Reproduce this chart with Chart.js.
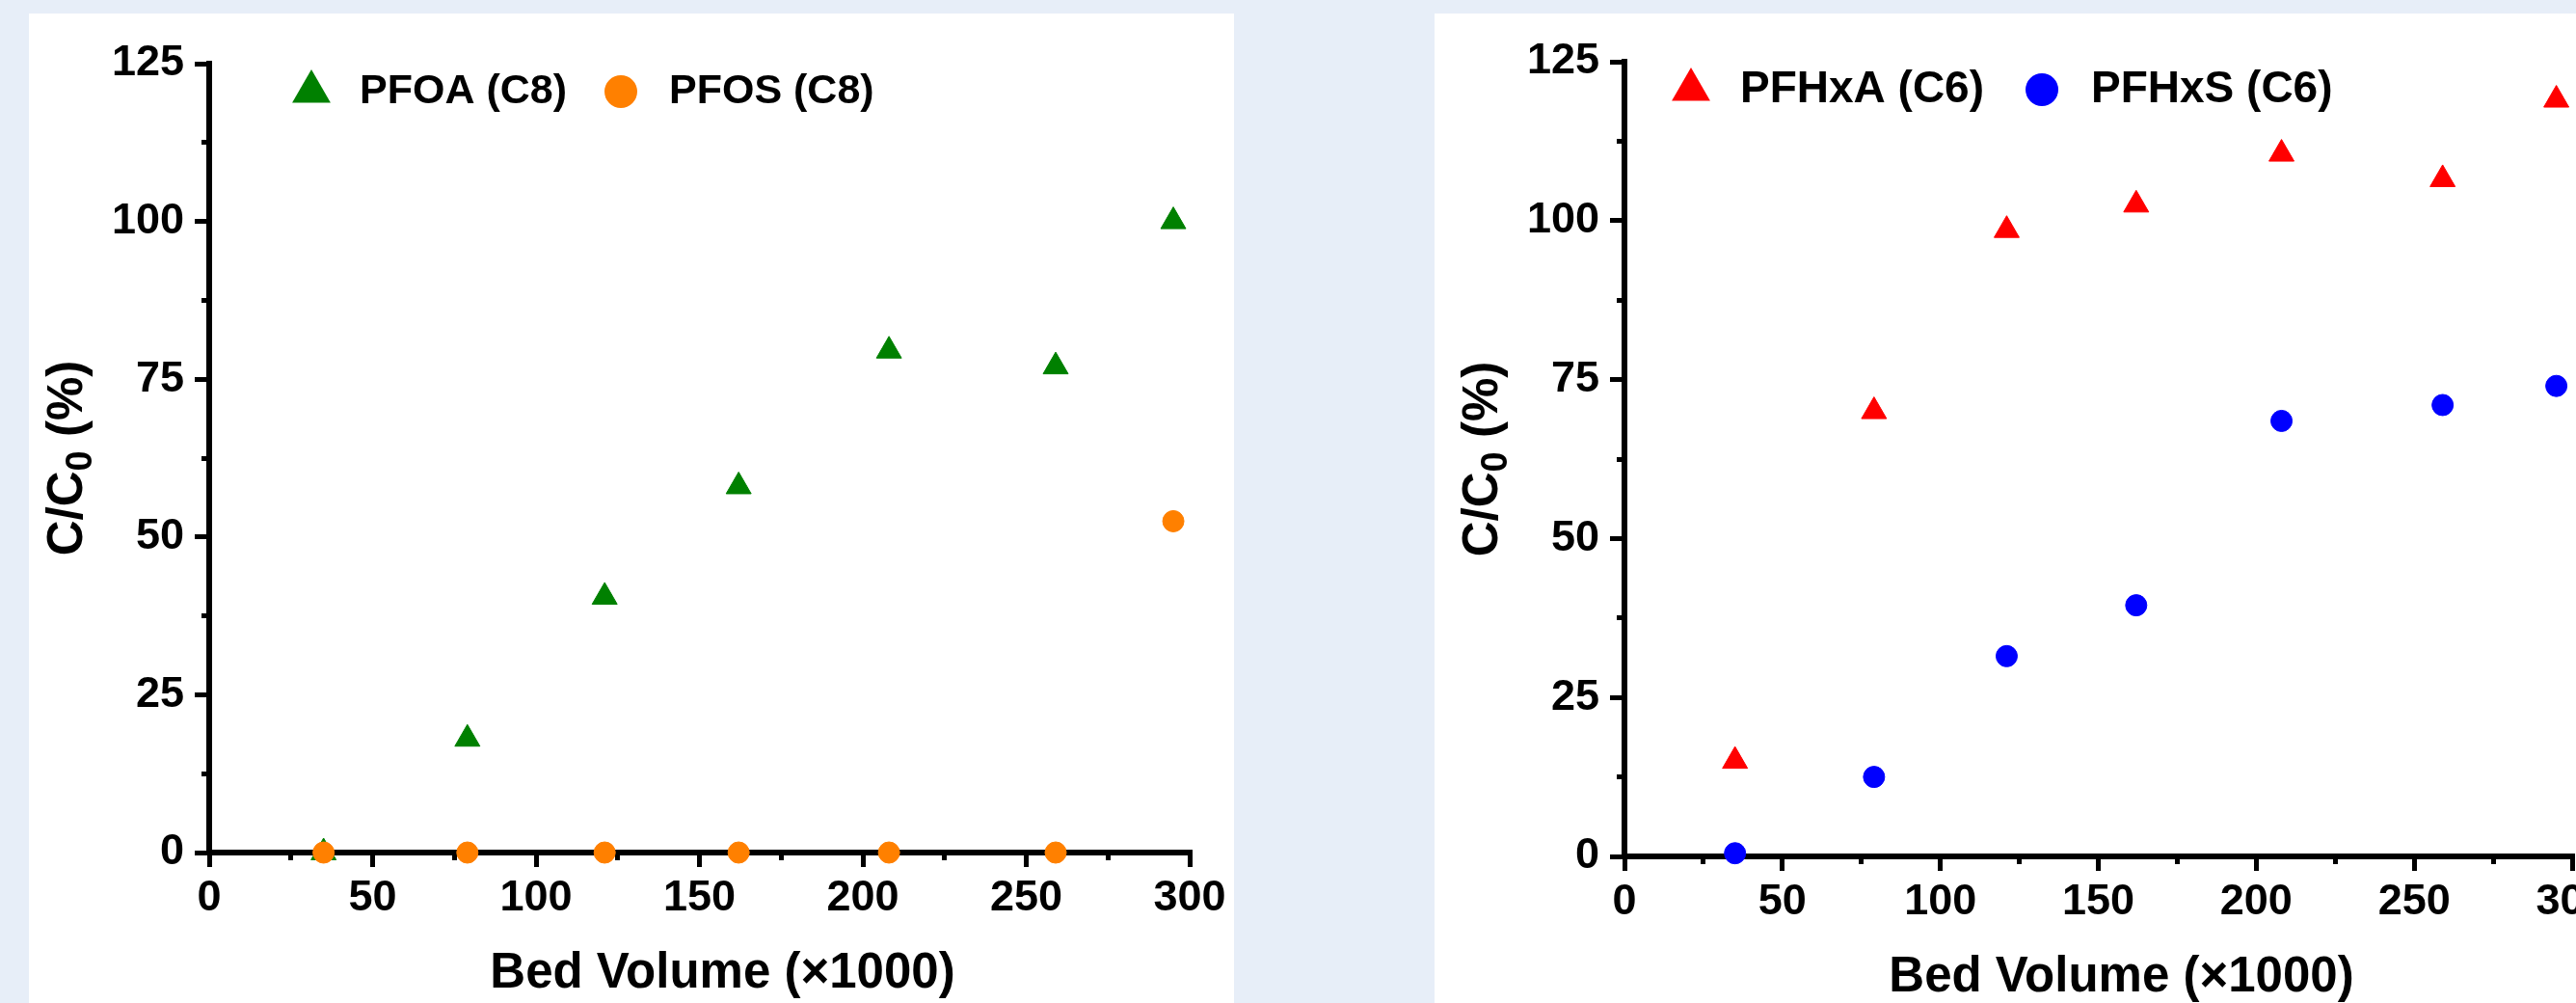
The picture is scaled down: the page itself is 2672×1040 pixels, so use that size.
<!DOCTYPE html>
<html>
<head>
<meta charset="utf-8">
<script src="https://cdn.jsdelivr.net/npm/chart.js@4.4.1/dist/chart.umd.min.js"></script>
<style>
  html, body {
    margin: 0;
    padding: 0;
    overflow: hidden;
  }
  body {
    width: 2672px;
    height: 1040px;
    position: relative;
    background: #e7eef8;
  }
  .panel {
    position: absolute;
    top: 14px;
    width: 1250px;
    height: 1026px;
    background: #fff;
  }
  .panel canvas {
    display: block;
  }
</style>
</head>
<body>
<div class="panel" style="left:30px"><canvas id="chartC8" width="1250" height="1026"></canvas></div>
<div class="panel" style="left:1488px"><canvas id="chartC6" width="1250" height="1026"></canvas></div>

<script>
const FONT = "'Liberation Sans', Arial, Helvetica, sans-serif";

// data
const bedVolume = [35, 79, 121, 162, 208, 259, 295];
const pfoa = [0, 18, 40.5, 58, 79.5, 77, 100];
const pfos = [0, 0, 0, 0, 0, 0, 52.5];
const pfhxa = [15, 70, 98.5, 102.5, 110.5, 106.5, 119];
const pfhxs = [0.5, 12.5, 31.5, 39.5, 68.5, 71, 74];

const labelsC8 = ["PFOA (C8)", "PFOS (C8)"];
const labelsC6 = ["PFHxA (C6)", "PFHxS (C6)"];

const xTitle = "Bed Volume (\u00d71000)";
const yTitleParts = ["C/C", "0", " (%)"];

const xRange = [0, 300];
const xMajorStep = 50;
const xMinorStep = 25;
const yRange = [0, 125];
const yMajorStep = 25;
const yMinorStep = 12.5;

const toPoints = (ys) => bedVolume.map((x, i) => ({ x, y: ys[i] }));

// axis titles (y title needs a subscript, so both are drawn here)
const axisTitles = {
  id: "axisTitles",
  afterDraw(chart, args, opts) {
    const { ctx, chartArea } = chart;
    ctx.save();
    ctx.fillStyle = "#000";
    ctx.textBaseline = "alphabetic";

    ctx.font = `bold ${opts.size}px ${FONT}`;
    ctx.textAlign = "center";
    ctx.fillText(
      xTitle,
      (chartArea.left + chartArea.right) / 2 + opts.xShift,
      chartArea.bottom + opts.xGap
    );

    ctx.translate(chartArea.left - opts.yGap, (chartArea.top + chartArea.bottom) / 2);
    ctx.rotate(-Math.PI / 2);
    ctx.textAlign = "left";
    const mainFont = `bold ${opts.size}px ${FONT}`;
    const subFont = `bold ${opts.subSize}px ${FONT}`;
    ctx.font = mainFont;
    const w0 = ctx.measureText(yTitleParts[0]).width;
    const w2 = ctx.measureText(yTitleParts[2]).width;
    ctx.font = subFont;
    const w1 = ctx.measureText(yTitleParts[1]).width;
    let x = -(w0 + w1 + w2) / 2;
    ctx.font = mainFont;
    ctx.fillText(yTitleParts[0], x, 0);
    x += w0;
    ctx.font = subFont;
    ctx.fillText(yTitleParts[1], x, opts.subDrop);
    x += w1;
    ctx.font = mainFont;
    ctx.fillText(yTitleParts[2], x, 0);
    ctx.restore();
  },
};

// legend sitting inside the plot area
const insideLegend = {
  id: "insideLegend",
  afterDraw(chart, args, opts) {
    const { ctx, chartArea } = chart;
    ctx.save();
    ctx.font = `bold ${opts.fontSize}px ${FONT}`;
    ctx.textBaseline = "middle";
    ctx.textAlign = "left";
    let x = chartArea.left + opts.x;
    const y = chartArea.top + opts.y;
    chart.data.datasets.forEach((ds) => {
      ctx.fillStyle = ds.pointBackgroundColor;
      ctx.strokeStyle = ds.pointBackgroundColor;
      Chart.helpers.drawPoint(
        ctx,
        { pointStyle: ds.pointStyle, radius: opts.radius[ds.pointStyle], rotation: 0, borderWidth: 0 },
        x,
        y
      );
      ctx.fillStyle = "#000";
      const tx = x + opts.textGap;
      ctx.fillText(ds.label, tx, y);
      x = tx + ctx.measureText(ds.label).width + opts.itemGap;
    });
    ctx.restore();
  },
};

function makeScales(leftWidth) {
  const tickFont = { family: FONT, size: 45, weight: "bold" };
  const minorGrid = {
    display: true,
    drawOnChartArea: false,
    drawTicks: true,
    tickLength: 8,
    tickWidth: 5,
    lineWidth: 5,
    tickColor: "#000",
    color: "#000",
  };
  const majorGrid = { ...minorGrid, tickLength: 15 };
  return {
    x: {
      type: "linear",
      position: "bottom",
      weight: 1,
      min: xRange[0],
      max: xRange[1],
      border: { display: true, color: "#000", width: 6 },
      grid: majorGrid,
      ticks: { stepSize: xMajorStep, color: "#000", font: tickFont, padding: 6, maxRotation: 0, autoSkip: false },
      afterFit: (s) => { s.height = 100; },
    },
    xMinor: {
      type: "linear",
      position: "bottom",
      weight: 0,
      min: xRange[0],
      max: xRange[1],
      border: { display: false },
      grid: minorGrid,
      ticks: { stepSize: xMinorStep, display: false, autoSkip: false },
      afterFit: (s) => { s.height = 0; },
    },
    y: {
      type: "linear",
      position: "left",
      weight: 1,
      min: yRange[0],
      max: yRange[1],
      border: { display: true, color: "#000", width: 6 },
      grid: majorGrid,
      ticks: { stepSize: yMajorStep, color: "#000", font: tickFont, padding: 11, autoSkip: false },
      afterFit: (s) => { s.width = leftWidth; },
    },
    yMinor: {
      type: "linear",
      position: "left",
      weight: 0,
      min: yRange[0],
      max: yRange[1],
      border: { display: false },
      grid: minorGrid,
      ticks: { stepSize: yMinorStep, display: false, autoSkip: false },
      afterFit: (s) => { s.width = 0; },
    },
  };
}

function makeDataset(label, ys, color, style, radius, order) {
  return {
    label,
    data: toPoints(ys),
    pointStyle: style,
    pointRadius: radius,
    pointHoverRadius: radius,
    pointBackgroundColor: color,
    pointBorderColor: color,
    pointBorderWidth: 1,
    backgroundColor: color,
    borderColor: color,
    clip: false,
    order,
  };
}

function buildChart(id, datasets, pad, legendOpts) {
  return new Chart(document.getElementById(id), {
    type: "scatter",
    data: { datasets },
    options: {
      responsive: false,
      animation: false,
      devicePixelRatio: 1,
      layout: { padding: pad },
      scales: makeScales(120),
      plugins: {
        legend: { display: false },
        tooltip: { enabled: false },
        axisTitles: { size: 51, subSize: 38, subDrop: 10, xShift: 24, xGap: 140, yGap: 132 },
        insideLegend: {
          ...legendOpts,
          y: 29,
          radius: { triangle: 23, circle: 17 },
        },
      },
    },
    plugins: [axisTitles, insideLegend],
  });
}

buildChart(
  "chartC8",
  [
    makeDataset(labelsC8[0], pfoa, "#008000", "triangle", 15, 1),
    makeDataset(labelsC8[1], pfos, "#ff8000", "circle", 11, 0),
  ],
  { left: 67, right: 46, top: 52, bottom: 56 },
  { x: 106, fontSize: 43, textGap: 50, itemGap: 56 }
);

buildChart(
  "chartC6",
  [
    makeDataset(labelsC6[0], pfhxa, "#ff0000", "triangle", 15, 1),
    makeDataset(labelsC6[1], pfhxs, "#0000ff", "circle", 11, 0),
  ],
  { left: 77, right: 70, top: 50, bottom: 52 },
  { x: 69, fontSize: 46, textGap: 51, itemGap: 60 }
);
</script>
</body>
</html>
